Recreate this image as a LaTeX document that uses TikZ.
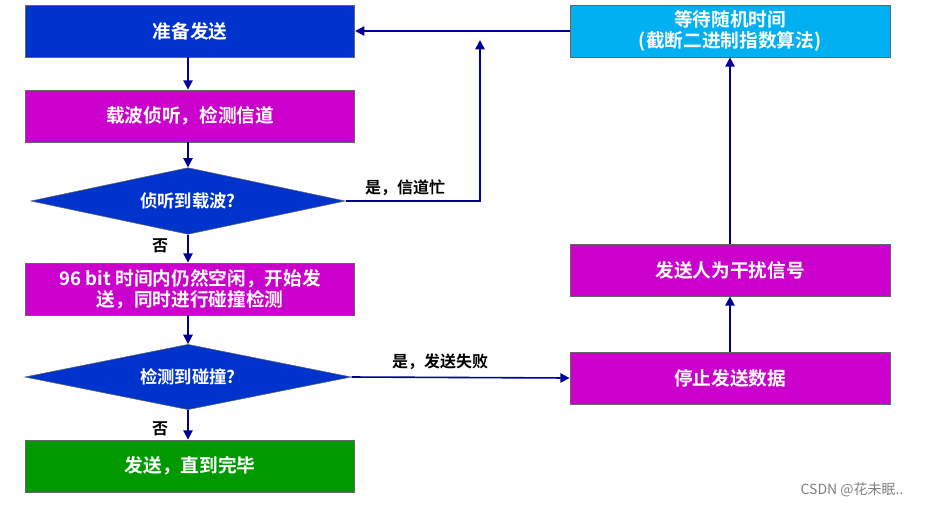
\documentclass[tikz,border=0pt]{standalone}
\usepackage{fontspec}
\setmainfont{Noto Sans CJK SC}[BoldFont={Noto Sans CJK SC Bold}]
\usetikzlibrary{shapes.geometric,arrows.meta}
\definecolor{cblue}{HTML}{0033CC}
\definecolor{cmag}{HTML}{CC00CC}
\definecolor{cgreen}{HTML}{009900}
\definecolor{ccyan}{HTML}{00B0F0}
\definecolor{navy}{HTML}{000099}
\begin{document}
\begin{tikzpicture}[x=0.75pt,y=-0.75pt,
 box/.style={draw=black!60,line width=0.6pt,minimum width=247pt,minimum height=39pt,text=white,font=\bfseries\fontsize{14}{16}\selectfont,align=center,inner sep=1pt},
 dia/.style={diamond,aspect=4.7,draw=black!60,fill=cblue,text=white,font=\bfseries\fontsize{13}{15}\selectfont,inner sep=0pt},
 arr/.style={draw=navy,line width=1.2pt,-{Triangle[length=7pt,width=7pt]}},
 lab/.style={font=\bfseries\fontsize{12}{14}\selectfont,text=black}]
\useasboundingbox (0,0) rectangle (931,508);
\node[box,fill=cblue] (a) at (190,31) {准备发送};
\node[box,fill=cmag] (b) at (190,116) {载波侦听，检测信道};
\node[dia,minimum width=236pt,minimum height=50pt] (c) at (188,201) {侦听到载波?};
\node[box,fill=cmag] (d) at (190,289) {96 bit 时间内仍然空闲，开始发\\送，同时进行碰撞检测};
\node[dia,minimum width=245pt,minimum height=49pt] (e) at (188,377) {检测到碰撞?};
\node[box,fill=cgreen] (f) at (190,466) {发送，直到完毕};
\node[box,fill=ccyan,minimum width=240pt] (g) at (730,31) {等待随机时间\\(截断二进制指数算法)};
\node[box,fill=cmag,minimum width=240pt] (h) at (730,270) {发送人为干扰信号};
\node[box,fill=cmag,minimum width=240pt] (i) at (730,378) {停止发送数据};
\coordinate (up) at (480,40);
\draw[arr] (a.south -| 188,0) -- (b.north -| 188,0);
\draw[arr] (b.south -| 188,0) -- (c.north);
\draw[arr] (c.south) -- (d.north -| 188,0);
\draw[arr] (d.south -| 188,0) -- (e.north);
\draw[arr] (e.south) -- (f.north -| 188,0);
\draw[arr] (c.east) -| (up);
\draw[arr] (g.west) -- (a.east);
\draw[arr] (e.east) -- (i.west);
\draw[arr] (i.north) -- (h.north |- h.south);
\draw[arr] (h.north) -- (g.south);
\node[lab] (l1) at (405,188) {是，信道忙};
\node[lab] (l2) at (440,362) {是，发送失败};
\node[lab] (l3) at (160,246) {否};
\node[lab] (l4) at (160,429) {否};
\node[font=\fontsize{10.5}{12}\selectfont,text=gray] (w) at (852,490) {CSDN @花未眠..};
\end{tikzpicture}
\end{document}
